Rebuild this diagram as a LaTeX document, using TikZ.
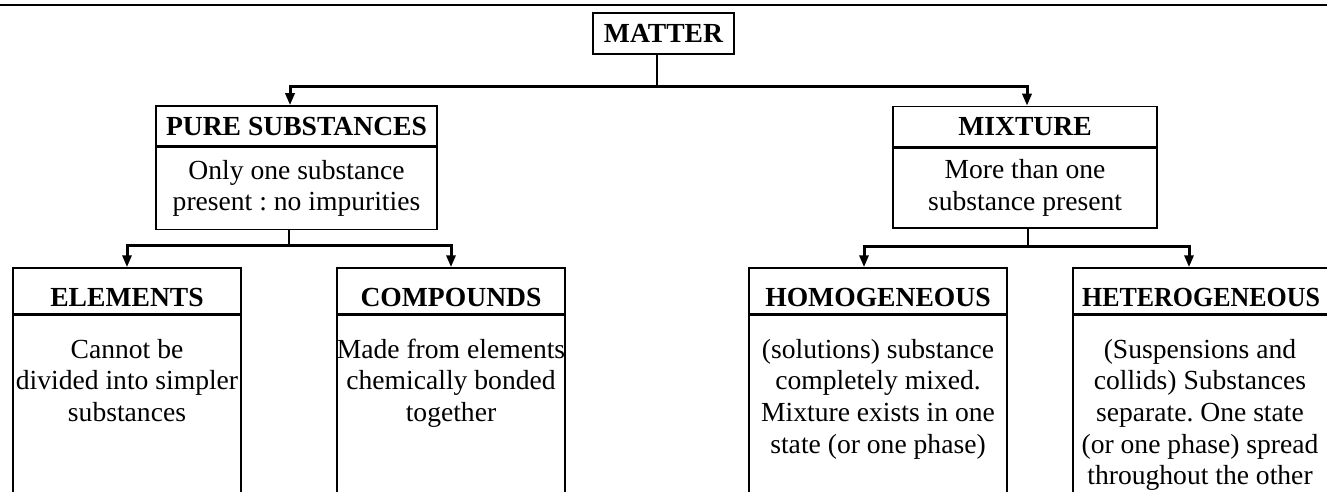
\documentclass[tikz,border=0pt]{standalone}
\usepackage{fontspec}
\setmainfont{Liberation Serif}
\usetikzlibrary{positioning,arrows.meta}
\frenchspacing
\newlength{\du}
\setlength{\du}{0.5pt}
\definecolor{dialinecolor}{rgb}{0.000000, 0.000000, 0.000000}
\tikzset{
  txt/.style={font=\fontsize{13.8}{15.85}\selectfont, align=center, inner sep=0pt},
  headbox/.style={txt, draw=dialinecolor, line width=1.5\du, font=\fontsize{13.8}{15.85}\selectfont\bfseries, minimum height=40\du},
  lowhead/.style={headbox, minimum height=46\du, text height=30\du, text depth=0pt},
  bodybox/.style={txt, draw=dialinecolor, line width=1.5\du},
  stem/.style={draw=dialinecolor, line width=1.5\du},
  bar/.style={draw=dialinecolor, line width=3\du, -{Triangle[width=4.5pt,length=6pt]}},
}

\begin{document}
\begin{tikzpicture}
\pgftransformxscale{1.000000}
\pgftransformyscale{-1.000000}
\useasboundingbox (0\du,0\du) rectangle (1327\du,492\du);
\clip (0\du,0\du) rectangle (1327\du,492\du);
\draw[dialinecolor, line width=2.6\du] (0\du,5\du)--(1327\du,5\du);
% top
\node[headbox, minimum width=141\du, minimum height=41\du] (matter) at (663.5\du,33.5\du) {MATTER};
% second row
\node[headbox, minimum width=281\du] (pureh) at (296.5\du,126\du) {PURE SUBSTANCES};
\node[bodybox, minimum width=281\du, minimum height=82\du, below=0pt of pureh] (pureb) {Only one substance\\present : no impurities};
\node[headbox, minimum width=264\du] (mixh) at (1025\du,126.5\du) {MIXTURE};
\node[bodybox, minimum width=264\du, minimum height=80\du, below=0pt of mixh] (mixb) {More than one\\substance present};
% third row (base = last line)
\node[lowhead, minimum width=228\du] (elemh) at (127\du,291\du) {ELEMENTS};
\node[bodybox, minimum width=228\du, minimum height=210\du, below=0pt of elemh] (elemb) {};
\node[txt, anchor=base] (elemt) at (127\du,421.4\du) {Cannot be\\divided into simpler\\substances};
\node[lowhead, minimum width=228\du] (comph) at (451\du,291\du) {COMPOUNDS};
\node[bodybox, minimum width=228\du, minimum height=210\du, below=0pt of comph] (compb) {};
\node[txt, anchor=base] (compt) at (451\du,421.4\du) {Made from elements\\chemically bonded\\together};
\node[lowhead, minimum width=258\du] (homoh) at (878\du,291\du) {HOMOGENEOUS};
\node[bodybox, minimum width=258\du, minimum height=210\du, below=0pt of homoh] (homob) {};
\node[txt, anchor=base] (homot) at (878\du,453.1\du) {(solutions) substance\\completely mixed.\\Mixture exists in one\\state (or one phase)};
\node[lowhead, minimum width=256\du] (heth) at (1201\du,291\du) {\scalebox{0.94}[1]{HETEROGENEOUS}};
\node[bodybox, minimum width=256\du, minimum height=210\du, below=0pt of heth] (hetb) {};
\node[txt, anchor=base] (hett) at (1200\du,484.8\du) {(Suspensions and\\collids) Substances\\separate. One state\\(or one phase) spread\\throughout the other};
% connectors
\coordinate (mj) at (657\du,87\du);
\draw[stem] (matter.south -| mj)--(mj);
\draw[bar] (mj) -| ([xshift=-6.5\du]pureh.north);
\draw[bar] (mj) -| ([xshift=2\du]mixh.north);
\coordinate (pj) at (289\du,245\du);
\draw[stem] (pureb.south -| pj)--(pj);
\draw[bar] (pj) -| (elemh.north);
\draw[bar] (pj) -| (comph.north);
\coordinate (xj) at (1028\du,246\du);
\draw[stem] (mixb.south -| xj)--(xj);
\draw[bar] (xj) -| ([xshift=-14\du]homoh.north);
\draw[bar] (xj) -| ([xshift=-12\du]heth.north);
\end{tikzpicture}
\end{document}
